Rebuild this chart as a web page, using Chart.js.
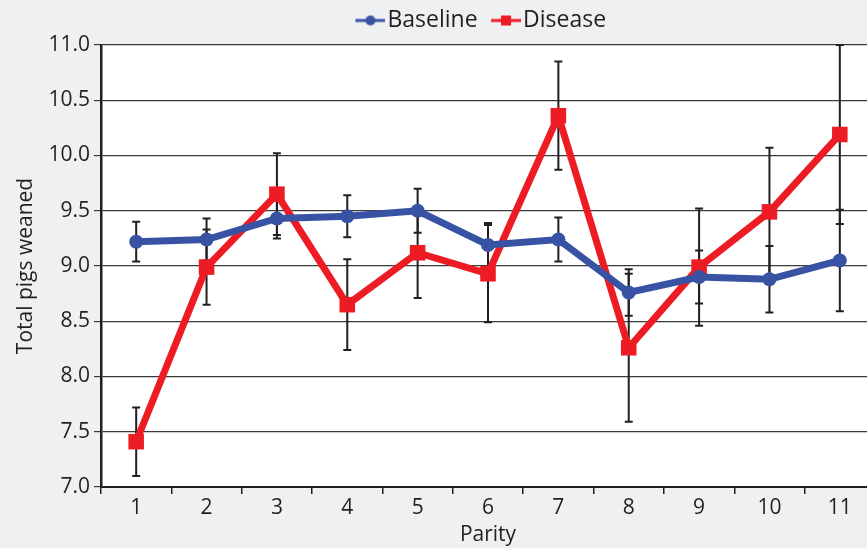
<!DOCTYPE html>
<html>
<head>
<meta charset="utf-8">
<script src="https://cdn.jsdelivr.net/npm/chart.js@4.4.1/dist/chart.umd.min.js"></script>
<style>
  html, body { margin: 0; padding: 0; background: #eff0f2; }
  #wrap { width: 867px; height: 548px; }
</style>
</head>
<body>
<div id="wrap"><canvas id="c" width="867" height="548"></canvas></div>
<script>
const categories = ['1', '2', '3', '4', '5', '6', '7', '8', '9', '10', '11'];
const baseline = [9.22, 9.24, 9.43, 9.45, 9.50, 9.19, 9.24, 8.76, 8.90, 8.88, 9.05];
const baselineErr = [0.18, 0.19, 0.18, 0.19, 0.20, 0.20, 0.20, 0.21, 0.24, 0.30, 0.46];
const disease = [7.41, 8.99, 9.65, 8.65, 9.12, 8.93, 10.36, 8.26, 8.99, 9.49, 10.19];
const diseaseErr = [0.31, 0.34, 0.37, 0.41, 0.41, 0.44, 0.49, 0.67, 0.53, 0.58, 0.81];
const yTicks = [7.0, 7.5, 8.0, 8.5, 9.0, 9.5, 10.0, 10.5, 11.0];

const BLUE = '#3953a4';
const RED = '#ed1c24';
const FONT = "'Open Sans', 'Liberation Sans', sans-serif";

function legendIcon(color, shape) {
  const cv = document.createElement('canvas');
  cv.width = 44; cv.height = 14;
  const g = cv.getContext('2d');
  g.strokeStyle = color; g.fillStyle = color; g.lineWidth = 3;
  g.beginPath(); g.moveTo(14, 7); g.lineTo(44, 7); g.stroke();
  if (shape === 'circle') { g.beginPath(); g.arc(29, 7, 5, 0, Math.PI * 2); g.fill(); }
  else { g.fillRect(24, 2, 10, 10); }
  return cv;
}

const errorBars = {
  id: 'errorBars',
  beforeDatasetsDraw(chart) {
    const { ctx, chartArea, scales: { x, y } } = chart;
    const errs = [baselineErr, diseaseErr];
    ctx.save();
    ctx.beginPath();
    ctx.rect(chartArea.left, chartArea.top - 1, chartArea.right - chartArea.left, chartArea.bottom - chartArea.top + 2);
    ctx.clip();
    ctx.strokeStyle = '#231f20';
    ctx.lineWidth = 2;
    chart.data.datasets.forEach((ds, i) => {
      ds.data.forEach((v, j) => {
        const px = x.getPixelForValue(j);
        const top = y.getPixelForValue(v + errs[i][j]);
        const bot = y.getPixelForValue(v - errs[i][j]);
        ctx.beginPath();
        ctx.moveTo(px, top); ctx.lineTo(px, bot);
        ctx.moveTo(px - 4, top); ctx.lineTo(px + 4, top);
        ctx.moveTo(px - 4, bot); ctx.lineTo(px + 4, bot);
        ctx.stroke();
      });
    });
    ctx.restore();
  }
};

const areaBg = {
  id: 'areaBg',
  beforeDraw(chart) {
    const { ctx, chartArea } = chart;
    ctx.save();
    ctx.fillStyle = '#ffffff';
    ctx.fillRect(chartArea.left, chartArea.top, chartArea.right - chartArea.left, chartArea.bottom - chartArea.top);
    ctx.restore();
  }
};

// Let the plot area run past the right canvas edge, as in the reference
const layoutTweak = {
  id: 'layoutTweak',
  afterLayout(chart) {
    const R = 875;
    const ca = chart.chartArea;
    const x = chart.scales.x;
    ca.right = R; ca.width = R - ca.left;
    x.right = R; x.width = R - x.left; x.configure();
    if (chart.legend) {
      chart.legend.left += 45; chart.legend.right += 45;
      chart.legend.top -= 3; chart.legend.bottom -= 3;
    }
  }
};

new Chart(document.getElementById('c'), {
  type: 'line',
  data: {
    labels: categories,
    datasets: [
      {
        label: 'Baseline', data: baseline,
        borderColor: BLUE, backgroundColor: BLUE, borderWidth: 7,
        pointStyle: 'circle', pointRadius: 7, pointBackgroundColor: BLUE, pointBorderWidth: 0,
        tension: 0
      },
      {
        label: 'Disease', data: disease,
        borderColor: RED, backgroundColor: RED, borderWidth: 7,
        pointStyle: 'rect', pointRadius: 11, pointBackgroundColor: RED, pointBorderWidth: 0,
        tension: 0
      }
    ]
  },
  options: {
    responsive: false,
    animation: false,
    layout: { padding: { left: 0, right: 0, top: 3, bottom: 0 } },
    plugins: {
      tooltip: { enabled: false },
      legend: {
        position: 'top',
        align: 'center',
        labels: {
          color: '#231f20',
          font: { family: FONT, size: 23 },
          usePointStyle: true,
          pointStyleWidth: 25,
          padding: 9,
          generateLabels(chart) {
            return [
              { text: 'Baseline', pointStyle: legendIcon(BLUE, 'circle'), fillStyle: BLUE, strokeStyle: BLUE, lineWidth: 0, datasetIndex: 0, fontColor: '#231f20' },
              { text: 'Disease', pointStyle: legendIcon(RED, 'rect'), fillStyle: RED, strokeStyle: RED, lineWidth: 0, datasetIndex: 1, fontColor: '#231f20' }
            ];
          }
        }
      }
    },
    scales: {
      x: {
        type: 'category',
        offset: true,
        grid: { display: true, drawOnChartArea: false, drawTicks: true, tickLength: 7, offset: true, color: '#231f20', lineWidth: 1.5 },
        border: { display: true, color: '#231f20', width: 2 },
        ticks: { color: '#231f20', font: { family: FONT, size: 21 }, padding: 1, maxRotation: 0 },
        title: { display: true, text: 'Parity', color: '#231f20', font: { family: FONT, size: 21 }, padding: { top: 0, bottom: 0 } },
        afterFit(s) { s.height = 61; }
      },
      y: {
        min: 7, max: 11,
        afterBuildTicks(s) { s.ticks = yTicks.map(v => ({ value: v })); },
        grid: { color: '#3a3a3a', lineWidth: 1.2, drawTicks: true, tickLength: 7 },
        border: { display: true, color: '#231f20', width: 2.5 },
        ticks: { color: '#231f20', font: { family: FONT, size: 21 }, padding: 4, callback: v => Number(v).toFixed(1) },
        title: { display: true, text: 'Total pigs weaned', color: '#231f20', font: { family: FONT, size: 21 }, padding: { top: 13, bottom: 3 } },
        afterFit(s) { s.width = 101; }
      }
    }
  },
  plugins: [areaBg, errorBars, layoutTweak]
});
</script>
</body>
</html>
